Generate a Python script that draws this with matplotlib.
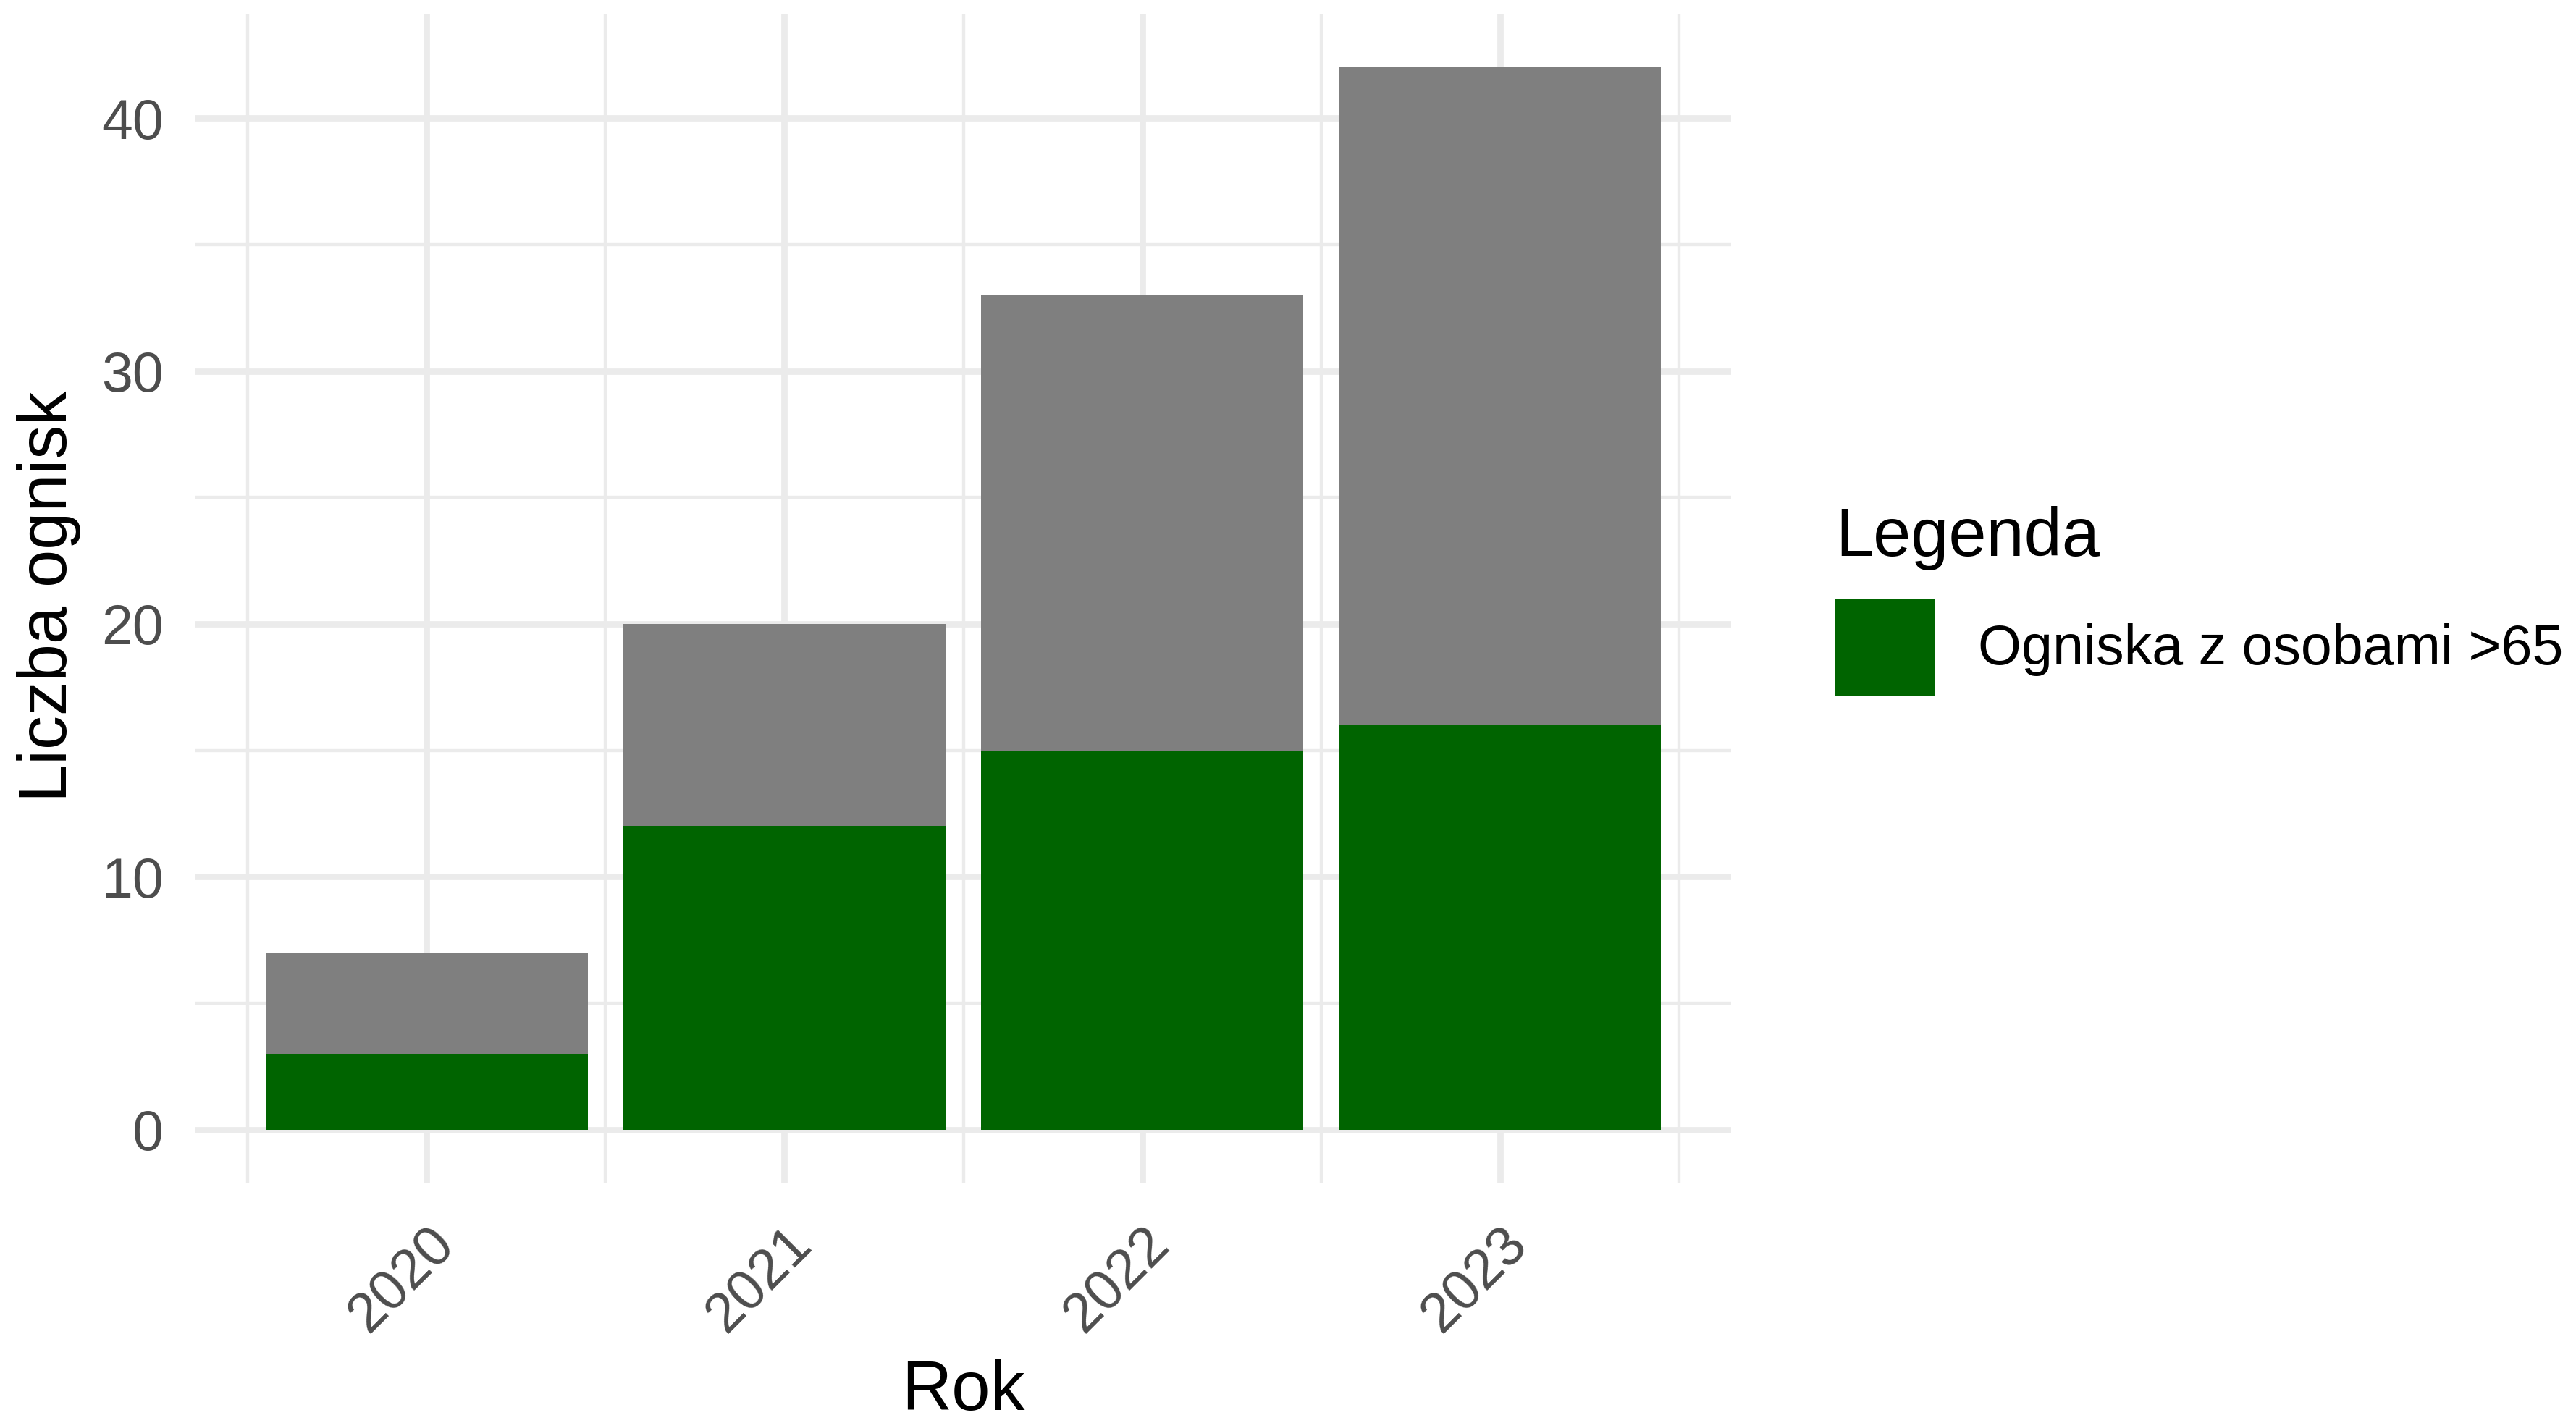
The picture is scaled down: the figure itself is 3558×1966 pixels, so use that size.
import matplotlib
matplotlib.use("Agg")
import matplotlib.pyplot as plt
from matplotlib.patches import Patch
import numpy as np

plt.rcParams['font.family'] = ['Liberation Sans', 'DejaVu Sans']

years = ["2020", "2021", "2022", "2023"]
total_outbreaks = [7, 20, 33, 42]
outbreaks_over65 = [3, 12, 15, 16]
legend_title = "Legenda"
legend_label = "Ogniska z osobami >65"
x_title = "Rok"
y_title = "Liczba ognisk"
y_ticks = [0, 10, 20, 30, 40]
y_minor = [5, 15, 25, 35]

GRAY = "#7F7F7F"
GREEN = "#006400"
GRID = "#EBEBEB"
TICK_COL = "#4D4D4D"

fig = plt.figure(figsize=(3558 / 300, 1966 / 300), dpi=300)
ax = fig.add_axes([270 / 3558, 1 - 1634 / 1966, (2391 - 270) / 3558, (1634 - 20) / 1966])

x = np.arange(1, len(years) + 1)
ax.bar(x, total_outbreaks, width=0.9, color=GRAY, zorder=3)
ax.bar(x, outbreaks_over65, width=0.9, color=GREEN, zorder=4)

ax.set_xlim(0.354, 4.646)
ax.set_ylim(-2.1, 44.1)

for v in y_ticks:
    ax.axhline(v, color=GRID, lw=2.1, zorder=1)
for v in y_minor:
    ax.axhline(v, color=GRID, lw=1.05, zorder=1)
for v in x:
    ax.axvline(v, color=GRID, lw=2.1, zorder=1)
for v in np.arange(0.5, len(years) + 1, 1.0):
    ax.axvline(v, color=GRID, lw=1.05, zorder=1)

for s in ax.spines.values():
    s.set_visible(False)

ax.set_yticks(y_ticks)
ax.set_yticklabels([str(v) for v in y_ticks])
ax.set_xticks(x)
ax.set_xticklabels(years, rotation=45, ha='right', va='top', rotation_mode='anchor')
ax.tick_params(axis='both', length=0, labelsize=18.5, labelcolor=TICK_COL)
ax.tick_params(axis='y', pad=10.5)
ax.tick_params(axis='x', pad=11.5)

fig.text(1330 / 3558, 1 - 1948 / 1966, x_title, ha='center', va='baseline', fontsize=23, color='black')
fig.text(68 / 3558, 1 - 824 / 1966, y_title, ha='center', va='center', rotation=90, fontsize=22.5, color='black')

handles = [Patch(facecolor=GREEN, edgecolor='none')]
leg = fig.legend(handles, [legend_label], title=legend_title, loc='upper left',
                 bbox_to_anchor=(2535 / 3558, 1 - 699 / 1966), frameon=False,
                 fontsize=18.5, title_fontsize=22.5, borderpad=0, borderaxespad=0,
                 handlelength=1.79, handleheight=2.3, handletextpad=0.77,
                 alignment='left')
leg.get_title().set_color('black')

fig.savefig("out.png", dpi=300, facecolor='white')
